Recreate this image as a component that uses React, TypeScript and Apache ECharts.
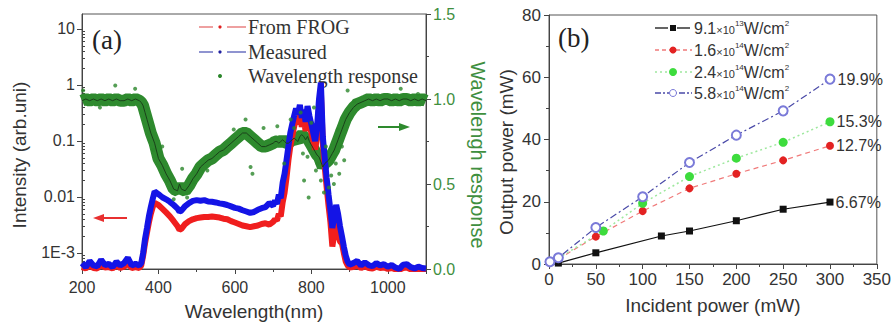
import React, { useEffect, useRef } from 'react';
import * as echarts from 'echarts';

// ---------- Panel (a): spectra ----------
const wavelengths = [
  200, 210, 220, 230, 240, 250, 260, 270, 280, 290, 300, 310, 320, 330, 340, 350,
  355, 360, 365, 370, 375, 380, 385, 390,
  400, 410, 420, 430, 440, 450,
  455,
  460, 470, 480, 490, 500, 510, 520, 530, 540, 550, 560, 570, 580, 590, 600, 610, 620, 630, 640, 650, 660, 670, 680, 690, 700,
  705, 710, 715, 720, 725, 730, 735, 740, 745, 750, 755, 760, 765, 770, 775, 780, 785, 790, 795, 800,
  805, 810, 815, 820, 825, 830, 835, 840, 845, 850, 855, 860, 865, 870, 875, 880, 885, 890, 895, 900,
  910, 920, 930, 940, 950, 960, 970, 980, 990, 1000, 1010, 1020, 1030, 1040, 1050, 1060, 1070, 1080, 1090, 1100,
];

const measured = [
  6.6e-4, 5.6e-4, 7.2e-4, 6.0e-4, 5.8e-4, 7.6e-4, 6.1e-4, 6.4e-4, 5.6e-4, 7.0e-4, 6.0e-4, 6.6e-4, 8.2e-4, 6.0e-4, 6.4e-4, 6.0e-4,
  6.6e-4, 1.0e-3, 1.8e-3, 2.8e-3, 4.5e-3, 6.6e-3, 9.2e-3, 1.25e-2,
  1.12e-2, 9.9e-3, 9.1e-3, 8.2e-3, 7.2e-3, 6.2e-3,
  5.5e-3,
  5.7e-3, 6.9e-3, 7.8e-3, 8.5e-3, 8.8e-3, 8.6e-3, 8.8e-3, 8.3e-3, 8.2e-3, 8.0e-3, 7.7e-3, 7.5e-3, 7.2e-3, 6.8e-3, 6.4e-3, 6.2e-3, 5.8e-3, 5.5e-3, 5.2e-3, 5.4e-3, 5.9e-3, 6.3e-3, 6.6e-3, 7.8e-3, 7.0e-3,
  8.6e-3, 7.5e-3, 1.1e-2, 9.5e-3, 1.8e-2, 2.6e-2, 4.5e-2, 8.0e-2, 0.14, 0.2, 0.28, 0.38, 0.3, 0.44, 0.26, 0.36, 0.22, 0.42, 0.28, 0.2,
  0.14, 0.1, 0.18, 0.55, 1.1, 0.12, 0.05, 0.022, 0.011, 5.8e-3, 2.8e-3, 4.5e-3, 7.2e-3, 5.0e-3, 3.0e-3, 2.0e-3, 1.3e-3, 9.0e-4, 7.0e-4, 6.2e-4,
  6.6e-4, 7.2e-4, 6.0e-4, 6.8e-4, 6.1e-4, 5.8e-4, 6.6e-4, 6.0e-4, 6.3e-4, 5.7e-4, 6.1e-4, 5.5e-4, 5.2e-4, 6.2e-4, 6.3e-4, 5.6e-4, 5.3e-4, 5.7e-4, 5.4e-4, 5.3e-4,
];

const fromFrog = [
  5.6e-4, 5.3e-4, 6.0e-4, 5.4e-4, 5.3e-4, 6.2e-4, 5.5e-4, 5.6e-4, 5.3e-4, 6.0e-4, 5.4e-4, 5.7e-4, 6.5e-4, 5.4e-4, 5.6e-4, 5.4e-4,
  6.0e-4, 9.0e-4, 1.5e-3, 2.3e-3, 3.5e-3, 5.0e-3, 6.6e-3, 7.8e-3,
  7.2e-3, 6.2e-3, 5.3e-3, 4.5e-3, 3.7e-3, 3.0e-3,
  2.6e-3,
  2.7e-3, 3.3e-3, 3.7e-3, 4.0e-3, 4.2e-3, 4.3e-3, 4.4e-3, 4.4e-3, 4.5e-3, 4.4e-3, 4.3e-3, 4.1e-3, 4.0e-3, 3.7e-3, 3.5e-3, 3.3e-3, 3.1e-3, 3.0e-3, 2.9e-3, 3.0e-3, 3.1e-3, 3.3e-3, 3.4e-3, 3.2e-3, 3.6e-3,
  4.0e-3, 3.8e-3, 5.0e-3, 4.5e-3, 8.0e-3, 1.2e-2, 2.2e-2, 4.5e-2, 8.0e-2, 0.12, 0.18, 0.25, 0.2, 0.3, 0.18, 0.25, 0.15, 0.28, 0.2, 0.14,
  0.1, 0.07, 0.12, 0.4, 0.75, 0.09, 0.035, 0.015, 7.0e-3, 3.5e-3, 1.3e-3, 2.2e-3, 4.5e-3, 2.2e-3, 1.6e-3, 1.5e-3, 1.0e-3, 7.0e-4, 6.0e-4, 5.5e-4,
  5.6e-4, 6.0e-4, 5.4e-4, 5.8e-4, 5.4e-4, 5.3e-4, 5.7e-4, 5.4e-4, 5.5e-4, 5.2e-4, 5.4e-4, 5.1e-4, 5.0e-4, 5.4e-4, 5.5e-4, 5.1e-4, 5.0e-4, 5.2e-4, 5.0e-4, 5.0e-4,
];

const response = [
  0.99, 1.0, 0.99, 1.0, 0.99, 1.0, 0.99, 1.0, 0.99, 1.0, 0.99, 0.99, 1.0, 0.99, 1.0, 0.99,
  0.98, 0.96, 0.92, 0.88, 0.84, 0.8, 0.77, 0.74,
  0.65, 0.61, 0.56, 0.52, 0.47, 0.46,
  0.5,
  0.47, 0.46, 0.49, 0.53, 0.56, 0.6, 0.62, 0.64, 0.65, 0.67, 0.69, 0.7, 0.72, 0.74, 0.76, 0.78, 0.8, 0.8, 0.78, 0.76, 0.74, 0.72, 0.72, 0.73, 0.74,
  0.75, 0.75, 0.74, 0.75, 0.76, 0.75, 0.74, 0.74, 0.75, 0.76, 0.77, 0.76, 0.75, 0.78, 0.79, 0.78, 0.76, 0.78, 0.75, 0.73,
  0.71, 0.69, 0.67, 0.66, 0.63, 0.6, 0.62, 0.63, 0.64, 0.66, 0.68, 0.7, 0.73, 0.76, 0.79, 0.82, 0.85, 0.88, 0.9, 0.92,
  0.95, 0.97, 0.98, 0.99, 1.0, 0.99, 1.0, 0.99, 1.0, 1.0, 0.99, 1.0, 0.99, 1.0, 1.0, 0.99, 1.0, 0.99, 1.0, 0.99,
];

// scattered points of the wavelength response that sit off the main band
const responseDotsX = [
  203, 247, 287, 339, 387, 410, 422, 440, 462, 475, 492, 528, 597, 628, 641, 646, 675, 711, 729, 746,
  755, 772, 778, 781, 790, 793, 800, 807, 812, 816, 825, 833, 838, 846, 852, 859, 864, 869, 873, 880, 886, 895, 912, 1034, 1079,
];
const responseDotsY = [
  1.05, 0.95, 1.08, 1.06, 0.7, 0.72, 0.52, 0.41, 0.59, 0.42, 0.51, 0.58, 0.82, 0.88, 0.6, 0.56, 0.83, 0.84, 0.62, 0.88,
  0.83, 0.92, 0.68, 0.52, 0.66, 0.42, 0.86, 0.95, 0.58, 0.62, 0.52, 0.45, 0.72, 0.48, 0.55, 0.5, 0.62, 0.82, 0.56, 0.72, 0.64, 1.05, 0.99, 1.06, 1.03,
];

const intensityTicks = [0.001, 0.01, 0.1, 1, 10];
const intensityTickLabels = ['1E-3', '0.01', '0.1', '1', '10'];
const intensityMin = 5.18e-4;
const intensityMax = 18.5;

// ---------- Panel (b): output power ----------
const incident91 = [10, 50, 120, 150, 200, 250, 300];
const output91 = [0.3, 3.6, 9.0, 10.6, 13.9, 17.6, 19.9];
const incident16 = [10, 50, 100, 150, 200, 250, 300];
const output16 = [1.6, 8.8, 17.0, 24.3, 29.0, 33.3, 38.0];
const incident24 = [10, 58, 100, 150, 200, 250, 300];
const output24 = [1.9, 10.6, 19.5, 28.1, 34.0, 39.1, 45.7];
const incident58 = [1, 10, 50, 100, 150, 200, 250, 300];
const output58 = [0.7, 2.0, 11.7, 21.6, 32.6, 41.4, 49.2, 59.4];
const efficiencies = ['6.67%', '12.7%', '15.3%', '19.9%'];
const legendB = [
  { base: '9.1', exp: '13' },
  { base: '1.6', exp: '14' },
  { base: '2.4', exp: '14' },
  { base: '5.8', exp: '14' },
];

const SANS = '"Liberation Sans", Arial, Helvetica, sans-serif';
const SERIF = '"Liberation Serif", "Times New Roman", serif';
const AXIS = '#444';
const TXT = '#333';
const GREEN_TXT = '#3f8f3f';

function pairs(xs: number[], ys: number[]) {
  return xs.map((x, i) => [x, ys[i]]);
}

export default function App() {
  const ref = useRef<HTMLDivElement>(null);
  useEffect(() => {
    document.body.style.margin = '0';
    if (!ref.current) return;
    const chart = echarts.init(ref.current, undefined, { renderer: 'svg' });

    const minorLog: number[] = [];
    [-4, -3, -2, -1, 0, 1].forEach((d) => {
      [2, 3, 4, 5, 6, 7, 8, 9].forEach((k) => {
        const v = Math.log10(k) + d;
        if (v > Math.log10(intensityMin) && v < Math.log10(intensityMax)) minorLog.push(v);
      });
    });

    const lastLabel = (txt: string, n: number) => ({
      show: true,
      position: 'right' as const,
      distance: 2,
      fontSize: 16,
      fontFamily: SANS,
      color: TXT,
      formatter: (p: any) => (p.dataIndex === n - 1 ? txt : ''),
    });

    const legendRowsB = [
      { y: 28, color: '#111', line: '#111', dash: null as any, sym: 'rect' },
      { y: 50, color: '#e32222', line: '#f07a7a', dash: [4, 3], sym: 'circle' },
      { y: 72, color: '#3ddc3d', line: '#9ee89e', dash: [2, 3], sym: 'circle' },
      { y: 93, color: '#7a7ad8', line: '#4a4aa8', dash: [6, 2, 2, 2], sym: 'open' },
    ];

    const graphics: any[] = [
      // panel labels
      { type: 'text', x: 92, y: 40, style: { text: '(a)', font: `27px ${SERIF}`, fill: '#222', verticalAlign: 'middle' } },
      { type: 'text', x: 558, y: 38, style: { text: '(b)', font: `27px ${SERIF}`, fill: '#222', verticalAlign: 'middle' } },
      // legend (a)
      { type: 'line', shape: { x1: 199, y1: 27, x2: 213, y2: 27 }, style: { stroke: '#e88080', lineWidth: 1.5 } },
      { type: 'circle', shape: { cx: 220, cy: 27, r: 1.6 }, style: { fill: '#e02020' } },
      { type: 'line', shape: { x1: 227, y1: 27, x2: 246, y2: 27 }, style: { stroke: '#e88080', lineWidth: 1.5 } },
      { type: 'line', shape: { x1: 199, y1: 52, x2: 213, y2: 52 }, style: { stroke: '#6a70c0', lineWidth: 1.5 } },
      { type: 'circle', shape: { cx: 220, cy: 52, r: 1.6 }, style: { fill: '#2020a0' } },
      { type: 'line', shape: { x1: 227, y1: 52, x2: 246, y2: 52 }, style: { stroke: '#6a70c0', lineWidth: 1.5 } },
      { type: 'circle', shape: { cx: 220, cy: 76, r: 2 }, style: { fill: '#2a862a' } },
      { type: 'text', x: 248, y: 27, style: { text: 'From FROG', font: `20px ${SERIF}`, fill: TXT, verticalAlign: 'middle' } },
      { type: 'text', x: 248, y: 52, style: { text: 'Measured', font: `20px ${SERIF}`, fill: TXT, verticalAlign: 'middle' } },
      { type: 'text', x: 248, y: 76, style: { text: 'Wavelength response', font: `20px ${SERIF}`, fill: TXT, verticalAlign: 'middle' } },
      // arrows (a)
      { type: 'line', shape: { x1: 101, y1: 218, x2: 127, y2: 218 }, style: { stroke: '#e83030', lineWidth: 2 } },
      { type: 'polygon', shape: { points: [[93, 218], [104, 214], [104, 222]] }, style: { fill: '#e83030' } },
      { type: 'line', shape: { x1: 378, y1: 127, x2: 402, y2: 127 }, style: { stroke: '#2e8a2e', lineWidth: 2 } },
      { type: 'polygon', shape: { points: [[410, 127], [399, 123], [399, 131]] }, style: { fill: '#2e8a2e' } },
    ];

    legendRowsB.forEach((r, i) => {
      if (r.dash) {
        graphics.push({ type: 'line', shape: { x1: 655, y1: r.y, x2: 692, y2: r.y }, style: { stroke: r.line, lineWidth: 1.3, lineDash: r.dash } });
      } else {
        graphics.push({ type: 'line', shape: { x1: 655, y1: r.y, x2: 668, y2: r.y }, style: { stroke: r.line, lineWidth: 1.3 } });
        graphics.push({ type: 'line', shape: { x1: 677, y1: r.y, x2: 690, y2: r.y }, style: { stroke: r.line, lineWidth: 1.3 } });
      }
      if (r.sym === 'rect') {
        graphics.push({ type: 'rect', shape: { x: 670, y: r.y - 3, width: 6, height: 6 }, style: { fill: r.color } });
      } else if (r.sym === 'circle') {
        graphics.push({ type: 'circle', shape: { cx: 673, cy: r.y, r: i === 2 ? 4 : 3.5 }, style: { fill: r.color } });
      } else {
        graphics.push({ type: 'circle', shape: { cx: 673, cy: r.y, r: 3.5 }, style: { fill: '#fff', stroke: r.color, lineWidth: 1 } });
      }
      const L = legendB[i];
      graphics.push({
        type: 'text',
        x: 694,
        y: r.y,
        style: {
          text: `{a|${L.base}}{b|×10}{c|${L.exp}}{a|W/cm}{c|2}`,
          verticalAlign: 'middle',
          fill: TXT,
          rich: {
            a: { fontSize: 16, fontFamily: SANS, fill: TXT, lineHeight: 18 },
            b: { fontSize: 11, fontFamily: SANS, fill: TXT, verticalAlign: 'bottom', padding: [0, 0, 2, 0] },
            c: { fontSize: 8, fontFamily: SANS, fill: TXT, verticalAlign: 'top' },
          },
        },
      });
    });

    const option: any = {
      animation: false,
      backgroundColor: '#fff',
      textStyle: { fontFamily: SANS },
      grid: [
        { left: 82, top: 14, width: 344, height: 255, show: true, borderColor: '#555', borderWidth: 1, backgroundColor: 'transparent' },
        { left: 549, top: 15, width: 333, height: 249, show: true, borderColor: '#555', borderWidth: 1, backgroundColor: 'transparent' },
      ],
      xAxis: [
        {
          gridIndex: 0, type: 'value', min: 200, max: 1100, interval: 200,
          axisLine: { show: true, lineStyle: { color: AXIS } },
          axisTick: { show: true, length: 5, lineStyle: { color: AXIS } },
          minorTick: { show: true, splitNumber: 2, length: 3, lineStyle: { color: AXIS } },
          axisLabel: { fontSize: 16, color: TXT, margin: 10, showMaxLabel: false, fontFamily: SANS, formatter: (v: number) => String(v) },
          splitLine: { show: false },
          name: 'Wavelength(nm)', nameLocation: 'middle', nameGap: 33,
          nameTextStyle: { fontSize: 19, color: TXT, fontFamily: SANS },
        },
        {
          gridIndex: 1, type: 'value', min: 0, max: 350, interval: 50,
          axisLine: { show: true, lineStyle: { color: AXIS } },
          axisTick: { show: true, length: 5, lineStyle: { color: AXIS } },
          minorTick: { show: true, splitNumber: 2, length: 3, lineStyle: { color: AXIS } },
          axisLabel: { fontSize: 17, color: TXT, margin: 7, fontFamily: SANS },
          splitLine: { show: false },
          name: 'Incident power (mW)', nameLocation: 'middle', nameGap: 32,
          nameTextStyle: { fontSize: 19, color: TXT, fontFamily: SANS },
        },
      ],
      yAxis: [
        {
          gridIndex: 0, type: 'log', logBase: 10, min: intensityMin, max: intensityMax, position: 'left',
          axisLine: { show: true, lineStyle: { color: AXIS } },
          axisTick: { show: true, length: 5, lineStyle: { color: AXIS } },
          axisLabel: {
            fontSize: 16, color: TXT, margin: 7, fontFamily: SANS,
            showMinLabel: false, showMaxLabel: false,
            formatter: (v: number) => {
              const i = intensityTicks.findIndex((t) => Math.abs(Math.log10(t) - Math.log10(v)) < 1e-6);
              return i >= 0 ? intensityTickLabels[i] : '';
            },
          },
          splitLine: { show: false },
          name: 'Intensity (arb.uni)', nameLocation: 'middle', nameGap: 53, nameRotate: 90,
          nameTextStyle: { fontSize: 19, color: TXT, fontFamily: SANS, padding: [0, 27, 0, 0] },
        },
        {
          gridIndex: 0, type: 'value', min: 0, max: 1.5, interval: 0.5, position: 'right',
          axisLine: { show: true, lineStyle: { color: AXIS } },
          axisTick: { show: true, length: 5, lineStyle: { color: AXIS } },
          minorTick: { show: true, splitNumber: 2, length: 3, lineStyle: { color: AXIS } },
          axisLabel: { fontSize: 16, color: GREEN_TXT, margin: 7, fontFamily: SANS, formatter: (v: number) => v.toFixed(1) },
          splitLine: { show: false },
          name: 'Wavelengh response', nameLocation: 'middle', nameGap: 42, nameRotate: -90,
          nameTextStyle: { fontSize: 20, color: GREEN_TXT, fontFamily: SANS, padding: [0, 0, 0, 27] },
        },
        {
          gridIndex: 0, type: 'value', min: Math.log10(intensityMin), max: Math.log10(intensityMax), position: 'left',
          axisLine: { show: false },
          axisTick: { show: true, inside: true, length: 3, customValues: minorLog, lineStyle: { color: AXIS } },
          axisLabel: { show: false },
          splitLine: { show: false },
        },
        {
          gridIndex: 1, type: 'value', min: 0, max: 80, interval: 20,
          axisLine: { show: true, lineStyle: { color: AXIS } },
          axisTick: { show: true, length: 5, lineStyle: { color: AXIS } },
          minorTick: { show: true, splitNumber: 2, length: 3, lineStyle: { color: AXIS } },
          axisLabel: { fontSize: 17, color: TXT, margin: 8, fontFamily: SANS },
          splitLine: { show: false },
          name: 'Output power (mW)', nameLocation: 'middle', nameGap: 33, nameRotate: 90,
          nameTextStyle: { fontSize: 19, color: TXT, fontFamily: SANS, padding: [0, 25, 0, 0] },
        },
      ],
      series: [
        {
          name: 'Wavelength response band', type: 'line', xAxisIndex: 0, yAxisIndex: 1,
          data: pairs(wavelengths, response), showSymbol: false, symbol: 'none',
          lineStyle: { color: '#2e8a2e', width: 12 }, z: 2,
        },
        {
          name: 'From FROG', type: 'line', xAxisIndex: 0, yAxisIndex: 0,
          data: pairs(wavelengths, fromFrog), showSymbol: false, symbol: 'none',
          lineStyle: { color: '#f01e1e', width: 6 }, z: 3,
        },
        {
          name: 'Measured', type: 'line', xAxisIndex: 0, yAxisIndex: 0,
          data: pairs(wavelengths, measured), showSymbol: false, symbol: 'none',
          lineStyle: { color: '#1414e6', width: 6 }, z: 4,
        },
        {
          name: 'Wavelength response', type: 'scatter', xAxisIndex: 0, yAxisIndex: 1,
          data: pairs(responseDotsX, responseDotsY), symbolSize: 4,
          itemStyle: { color: '#2a862a' }, z: 5,
        },
        {
          name: 'Wavelength response line', type: 'line', xAxisIndex: 0, yAxisIndex: 1,
          data: pairs(wavelengths, response), showSymbol: false, symbol: 'none',
          lineStyle: { color: '#1a401a', width: 1 }, z: 6,
        },
        {
          name: '9.1e13', type: 'line', xAxisIndex: 1, yAxisIndex: 3,
          data: pairs(incident91, output91), symbol: 'rect', symbolSize: 7,
          itemStyle: { color: '#111' }, lineStyle: { color: '#111', width: 1.2 },
          label: lastLabel(efficiencies[0], incident91.length),
        },
        {
          name: '1.6e14', type: 'line', xAxisIndex: 1, yAxisIndex: 3,
          data: pairs(incident16, output16).map((d, i) => (i === 0 ? { value: d, symbolSize: 0 } : d)),
          symbol: 'circle', symbolSize: 8,
          itemStyle: { color: '#e32222' }, lineStyle: { color: '#f07a7a', width: 1.2, type: [5, 4] },
          label: lastLabel(efficiencies[1], incident16.length),
        },
        {
          name: '2.4e14', type: 'line', xAxisIndex: 1, yAxisIndex: 3,
          data: pairs(incident24, output24).map((d, i) => (i === 0 ? { value: d, symbolSize: 0 } : d)),
          symbol: 'circle', symbolSize: 9,
          itemStyle: { color: '#3ddc3d' }, lineStyle: { color: '#9ee89e', width: 1.5, type: [2, 3] },
          label: lastLabel(efficiencies[2], incident24.length),
        },
        {
          name: '5.8e14', type: 'line', xAxisIndex: 1, yAxisIndex: 3,
          data: pairs(incident58, output58), symbol: 'emptyCircle', symbolSize: 9,
          itemStyle: { color: '#7a7ad8', borderWidth: 1 }, lineStyle: { color: '#4a4aa8', width: 1.2, type: [7, 3, 2, 3] },
          label: lastLabel(efficiencies[3], incident58.length),
        },
      ],
      graphic: graphics,
    };

    chart.setOption(option);
    return () => chart.dispose();
  }, []);

  return <div ref={ref} style={{ width: 894, height: 326 }} />;
}
